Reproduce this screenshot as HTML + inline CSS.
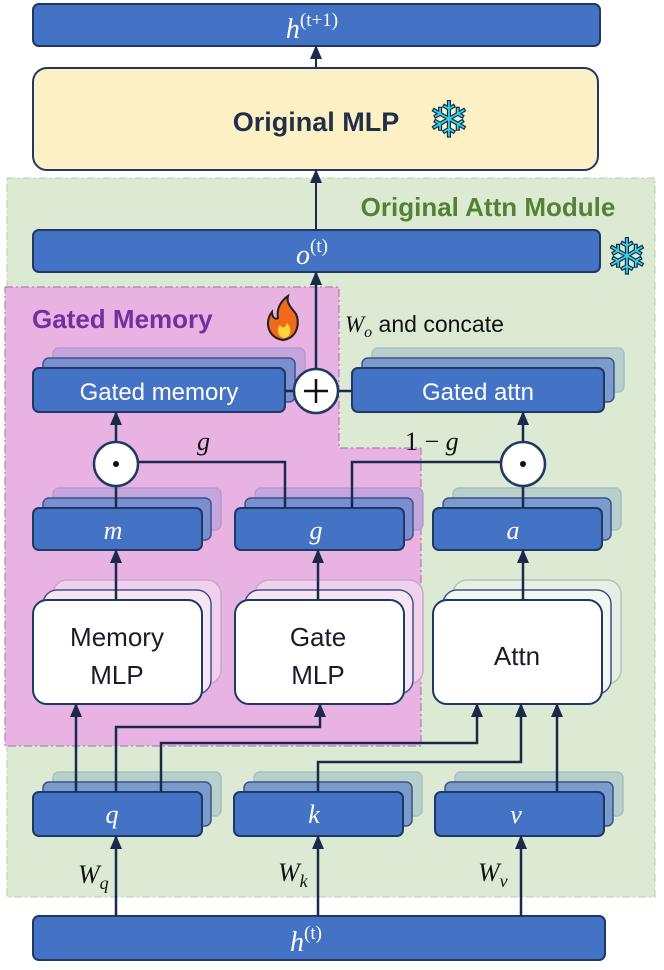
<!DOCTYPE html>
<html><head><meta charset="utf-8"><style>
body{margin:0;background:#fff}
svg{display:block}
text{font-family:"Liberation Sans","DejaVu Sans",sans-serif}
.m,.m text,text.m{font-family:"Liberation Serif","DejaVu Serif",serif;font-style:italic}
</style></head><body>
<svg width="664" height="970" viewBox="0 0 664 970" xmlns="http://www.w3.org/2000/svg">
<defs>
<marker id="ar" markerWidth="14" markerHeight="12" refX="13" refY="6" orient="auto" markerUnits="userSpaceOnUse" viewBox="0 0 14 12">
<path d="M0,0 L14,6 L0,12 Z" fill="#1b2a4a"/></marker>
</defs>
<rect x="7" y="178" width="648" height="719" fill="#dcead3" stroke="#b5d4a0" stroke-dasharray="8,3,2,3"/>
<path d="M5,287 H339 V448 H421 V746 H5 Z" fill="#e8b2e2" stroke="#a070b0" stroke-dasharray="8,3,2,3"/>

<rect x="33" y="4" width="567" height="42" rx="6" fill="#4472c4" stroke="#1f3864" stroke-width="2"/>
<text x="312" y="38" fill="#fff" font-size="28" text-anchor="middle" class="m">h<tspan font-size="19" dy="-12" font-style="normal">(t+1)</tspan></text>
<line x1="316" y1="68" x2="316" y2="46" stroke="#1b2a4a" stroke-width="2" marker-end="url(#ar)"/>
<rect x="33" y="68" width="565" height="102" rx="14" fill="#fdf0c4" stroke="#1f3864" stroke-width="2"/>
<text x="316" y="131" fill="#1f3048" font-size="27" font-weight="bold" text-anchor="middle">Original MLP</text>
<text x="449" y="137" fill="#3ad0e8" stroke="#10304a" stroke-width="1.2" font-size="50" text-anchor="middle" font-family="DejaVu Sans">❄</text>
<text x="488" y="216" fill="#548235" font-size="26" font-weight="bold" text-anchor="middle">Original Attn Module</text>
<line x1="316" y1="230" x2="316" y2="170" stroke="#1b2a4a" stroke-width="2" marker-end="url(#ar)"/>
<rect x="33" y="230" width="567" height="42" rx="6" fill="#4472c4" stroke="#1f3864" stroke-width="2"/>
<text x="312" y="264" fill="#fff" font-size="28" text-anchor="middle" class="m">o<tspan font-size="19" dy="-12" font-style="normal">(t)</tspan></text>
<text x="627" y="274" fill="#3ad0e8" stroke="#10304a" stroke-width="1.2" font-size="50" text-anchor="middle" font-family="DejaVu Sans">❄</text>

<text x="32" y="328" fill="#7030a0" font-size="26" font-weight="bold">Gated Memory</text>
<path d="M283,340 C268,338 264,322 272,312 C272,318 276,320 278,318 C276,308 282,300 288,296 C286,304 292,308 296,314 C300,322 298,338 283,340 Z" fill="#f06a1a" stroke="#222" stroke-width="2"/>
<path d="M284,338 C278,337 276,330 280,325 C282,329 286,328 287,323 C292,328 292,337 284,338 Z" fill="#ffd43a"/>
<text x="345" y="332" font-size="23" fill="#111"><tspan class="m" font-family="Liberation Serif" font-style="italic">W</tspan><tspan font-family="Liberation Serif" font-style="italic" font-size="16" dy="5">o</tspan><tspan dy="-5"> and concate</tspan></text>

<g stroke="#1f3864" stroke-width="2">
<rect x="53" y="348" width="252" height="44" rx="6" fill="#c4a6dc" stroke="#b89ad0" stroke-width="1.5"/>
<rect x="43" y="358" width="252" height="44" rx="6" fill="#7a8fd0" stroke="#40508a" stroke-width="1.5"/>
<rect x="33" y="368" width="252" height="44" rx="6" fill="#4472c4"/>
<rect x="372" y="348" width="252" height="44" rx="6" fill="#b8d0cc" stroke="#a4c0c0" stroke-width="1.5"/>
<rect x="362" y="358" width="252" height="44" rx="6" fill="#7a9ccc" stroke="#40508a" stroke-width="1.5"/>
<rect x="352" y="368" width="252" height="44" rx="6" fill="#4472c4"/>
<rect x="53" y="488" width="168" height="42" rx="6" fill="#c4a6dc" stroke="#b89ad0" stroke-width="1.5"/>
<rect x="43" y="498" width="168" height="42" rx="6" fill="#7a8fd0" stroke="#40508a" stroke-width="1.5"/>
<rect x="33" y="508" width="169" height="42" rx="6" fill="#4472c4"/>
<rect x="255" y="488" width="168" height="42" rx="6" fill="#c4a6dc" stroke="#b89ad0" stroke-width="1.5"/>
<rect x="245" y="498" width="168" height="42" rx="6" fill="#7a8fd0" stroke="#40508a" stroke-width="1.5"/>
<rect x="235" y="508" width="169" height="42" rx="6" fill="#4472c4"/>
<rect x="453" y="488" width="168" height="42" rx="6" fill="#b8d0cc" stroke="#a4c0c0" stroke-width="1.5"/>
<rect x="443" y="498" width="168" height="42" rx="6" fill="#7a9ccc" stroke="#40508a" stroke-width="1.5"/>
<rect x="433" y="508" width="169" height="42" rx="6" fill="#4472c4"/>
<rect x="53" y="580" width="168" height="104" rx="14" fill="#f0d0ec" stroke="#c8a8c8" stroke-width="1.5"/>
<rect x="43" y="590" width="168" height="104" rx="14" fill="#f6e6f4" stroke="#40508a" stroke-width="1.5"/>
<rect x="33" y="600" width="169" height="104" rx="14" fill="#fff"/>
<rect x="255" y="580" width="168" height="104" rx="14" fill="#f0d0ec" stroke="#c8a8c8" stroke-width="1.5"/>
<rect x="245" y="590" width="168" height="104" rx="14" fill="#f6e6f4" stroke="#40508a" stroke-width="1.5"/>
<rect x="235" y="600" width="169" height="104" rx="14" fill="#fff"/>
<rect x="453" y="580" width="168" height="104" rx="14" fill="#e6efe2" stroke="#b0c4b8" stroke-width="1.5"/>
<rect x="443" y="590" width="168" height="104" rx="14" fill="#f2f7f0" stroke="#40508a" stroke-width="1.5"/>
<rect x="433" y="600" width="169" height="104" rx="14" fill="#fff"/>
<rect x="53" y="772" width="168" height="44" rx="6" fill="#b8d0cc" stroke="#a4c0c0" stroke-width="1.5"/>
<rect x="43" y="782" width="168" height="44" rx="6" fill="#7a9ccc" stroke="#40508a" stroke-width="1.5"/>
<rect x="33" y="792" width="169" height="44" rx="6" fill="#4472c4"/>
<rect x="254" y="772" width="168" height="44" rx="6" fill="#b8d0cc" stroke="#a4c0c0" stroke-width="1.5"/>
<rect x="244" y="782" width="168" height="44" rx="6" fill="#7a9ccc" stroke="#40508a" stroke-width="1.5"/>
<rect x="234" y="792" width="169" height="44" rx="6" fill="#4472c4"/>
<rect x="455" y="772" width="168" height="44" rx="6" fill="#b8d0cc" stroke="#a4c0c0" stroke-width="1.5"/>
<rect x="445" y="782" width="168" height="44" rx="6" fill="#7a9ccc" stroke="#40508a" stroke-width="1.5"/>
<rect x="435" y="792" width="169" height="44" rx="6" fill="#4472c4"/>
<rect x="33" y="916" width="572" height="44" rx="6" fill="#4472c4"/>
</g>

<g stroke="#1b2a4a" stroke-width="2.5" fill="none">
<line x1="316" y1="369" x2="316" y2="272" marker-end="url(#ar)"/>
<line x1="285" y1="391" x2="294" y2="391"/>
<line x1="338" y1="391" x2="352" y2="391"/>
<line x1="116" y1="442" x2="116" y2="412" marker-end="url(#ar)"/>
<line x1="523" y1="442" x2="523" y2="412" marker-end="url(#ar)"/>
<line x1="116" y1="486" x2="116" y2="508"/>
<line x1="523" y1="486" x2="523" y2="508"/>
<polyline points="138,462 285,462 285,508"/>
<polyline points="352,508 352,462 501,462"/>
<line x1="116" y1="600" x2="116" y2="550" marker-end="url(#ar)"/>
<line x1="318" y1="600" x2="318" y2="550" marker-end="url(#ar)"/>
<line x1="523" y1="600" x2="523" y2="550" marker-end="url(#ar)"/>
<line x1="76" y1="792" x2="76" y2="704" marker-end="url(#ar)"/>
<polyline points="116,792 116,727 320,727 320,704" marker-end="url(#ar)"/>
<polyline points="161,792 161,743 477,743 477,704" marker-end="url(#ar)"/>
<polyline points="318,792 318,762 521,762 521,704" marker-end="url(#ar)"/>
<line x1="557" y1="792" x2="557" y2="704" marker-end="url(#ar)"/>
<line x1="116" y1="916" x2="116" y2="836" marker-end="url(#ar)"/>
<line x1="318" y1="916" x2="318" y2="836" marker-end="url(#ar)"/>
<line x1="521" y1="916" x2="521" y2="836" marker-end="url(#ar)"/>
</g>
<g stroke="#1f3864" stroke-width="2.5" fill="#fff">
<circle cx="316" cy="391" r="22"/>
<circle cx="116" cy="464" r="22"/>
<circle cx="523" cy="464" r="22"/>
</g>
<g stroke="#111" stroke-width="2.5"><line x1="304" y1="391" x2="328" y2="391"/><line x1="316" y1="379" x2="316" y2="403"/></g>
<circle cx="116" cy="464" r="3" fill="#111"/><circle cx="523" cy="464" r="3" fill="#111"/>

<g fill="#fff" font-size="24" text-anchor="middle">
<text x="159" y="400">Gated memory</text>
<text x="478" y="400">Gated attn</text>
</g>
<g fill="#fff" font-size="26" text-anchor="middle" class="m">
<text x="113" y="539">m</text><text x="316" y="539">g</text><text x="513" y="539">a</text>
<text x="112" y="823">q</text><text x="314" y="823">k</text><text x="516" y="823">v</text>
<text x="306" y="951" font-size="28">h<tspan font-size="19" dy="-12" font-style="normal">(t)</tspan></text>
</g>
<g fill="#1a1a2a" font-size="26" text-anchor="middle">
<text x="117" y="646">Memory</text><text x="117" y="684">MLP</text>
<text x="318" y="646">Gate</text><text x="318" y="684">MLP</text>
<text x="517" y="665">Attn</text>
</g>
<g fill="#111" font-size="26" class="m">
<text x="197" y="450">g</text>
<text x="405" y="450"><tspan font-style="normal">1 − </tspan>g</text>
<text x="78" y="883">W<tspan font-size="18" dy="6">q</tspan></text>
<text x="278" y="881">W<tspan font-size="18" dy="6">k</tspan></text>
<text x="478" y="881">W<tspan font-size="18" dy="6">v</tspan></text>
</g>
</svg>
</body></html>
